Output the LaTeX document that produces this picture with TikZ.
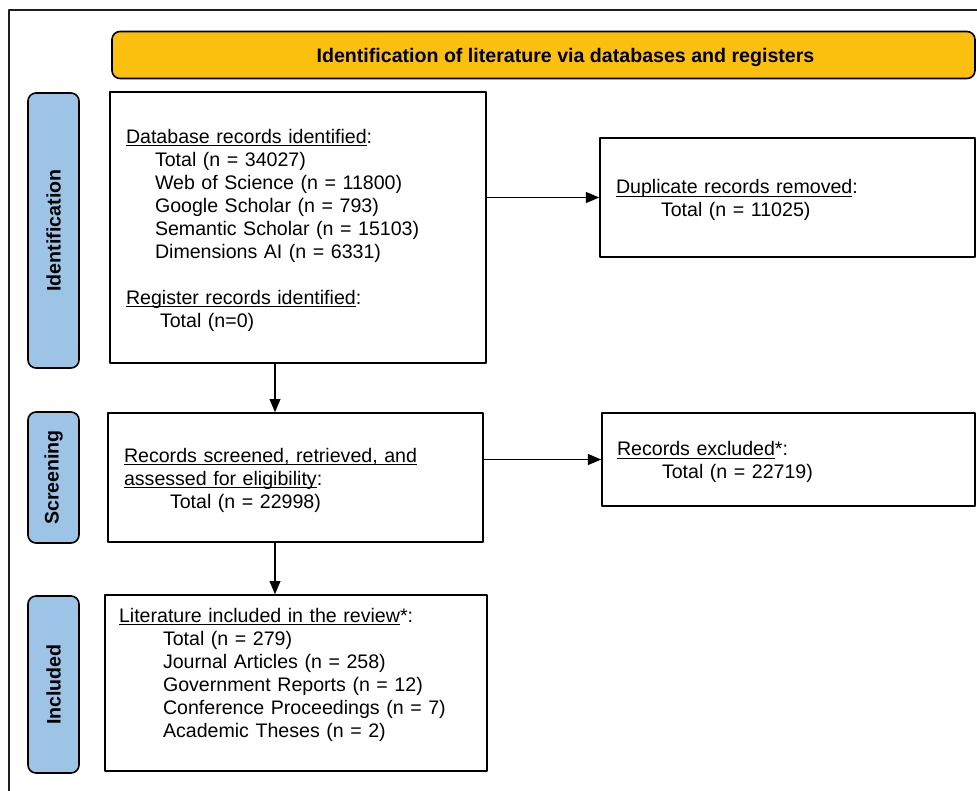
\documentclass[tikz,border=0pt]{standalone}
\usepackage{fontspec}
\setmainfont{Liberation Sans}
\usetikzlibrary{arrows}

\definecolor{stageblue}{RGB}{157,195,230}
\definecolor{headyellow}{RGB}{251,192,14}
\definecolor{framegray}{RGB}{30,30,30}
\newcommand{\subind}[1]{\hspace*{#1}}
\newcommand{\uln}[1]{\leavevmode\setbox0\hbox{#1}\rlap{\rule[-2.2pt]{\wd0}{0.8pt}}\box0}

\begin{document}
\begin{tikzpicture}[line cap=round,line join=round,>=triangle 45,x=0.75pt,y=-0.75pt,
		every node/.style={font=\fontsize{14.7}{17.25}\selectfont},
		recbox/.style={draw,line width=1.2pt,align=left,inner xsep=12pt,inner ysep=0pt,
			execute at begin node=\rule{0pt}{15pt}},
		stage/.style={draw,line width=1.2pt,fill=stageblue,rounded corners=6pt,rotate=90,
			minimum height=38.25pt,inner sep=0pt,font=\fontsize{14.7}{17.25}\selectfont\bfseries},
		headbox/.style={draw,line width=1.2pt,fill=headyellow,rounded corners=6pt,text depth=0pt,
			minimum width=647.25pt,minimum height=35.25pt,inner sep=0pt,font=\fontsize{14.7}{17.25}\selectfont\bfseries}]
		\useasboundingbox (0,0) rectangle (977,790);
		\clip (0,0) rectangle (977,790);
		\fill[white] (0,0) rectangle (977,790);
		\draw[framegray,line width=1.5pt] (9,10) rectangle (1000,820);

		% header and stages
		\node[headbox] (head) at (543.5,55) {\hspace*{33pt}Identification of literature via databases and registers};
		\node[stage,minimum width=206.25pt] (ident) at (53.5,230.5) {Identification};
		\node[stage,minimum width=98.25pt] (screen) at (53.5,477.5) {Screening};
		\node[stage,minimum width=132.75pt] (incl) at (53.5,684.5) {Included};

		% record boxes
		\node[recbox,text width=258pt,minimum height=203.25pt] (found) at (298,227.5) {%
			\uln{Database records identified}:\\
			\subind{21.75pt}Total (n = 34027)\\
			\subind{21.75pt}Web of Science (n = 11800)\\
			\subind{21.75pt}Google Scholar (n = 793)\\
			\subind{21.75pt}Semantic Scholar (n = 15103)\\
			\subind{21.75pt}Dimensions AI (n = 6331)\\[17.25pt]
			\uln{Register records identified}:\\
			\subind{25.5pt}Total (n=0)};
		\node[recbox,text width=257.25pt,minimum height=89.25pt] (dupl) at (787.5,197.5) {%
			\uln{Duplicate records removed}:\\
			\subind{33.75pt}Total (n = 11025)};
		\node[recbox,text width=257.25pt,minimum height=96.75pt] (screened) at (295.5,477.5) {%
			\uln{Records screened, retrieved, and}\\
			\uln{assessed for eligibility}:\\
			\subind{34.5pt}Total (n = 22998)};
		\node[recbox,inner xsep=11.25pt,text width=257.25pt,minimum height=69.75pt] (excl) at (788.5,459.5) {%
			\uln{Records excluded}*:\\
			\subind{33.75pt}Total (n = 22719)};
		\node[recbox,inner xsep=10.5pt,text width=265.5pt,minimum height=132pt] (review) at (296,683) {%
			\uln{Literature included in the review}*:\\
			\subind{33pt}Total (n = 279)\\
			\subind{33pt}Journal Articles (n = 258)\\
			\subind{33pt}Government Reports (n = 12)\\
			\subind{33pt}Conference Proceedings (n = 7)\\
			\subind{33pt}Academic Theses (n = 2)\\
			\rule[-3pt]{0pt}{0pt}};

		% arrows
		\coordinate (spine) at (275,0);
		\draw[->,line width=1.3pt] (found.south -| spine) -- (screened.north -| spine);
		\draw[->,line width=1.3pt] (screened.south -| spine) -- (review.north -| spine);
		\draw[->,line width=1.3pt] (found.east |- dupl.west) -- (dupl.west);
		\draw[->,line width=1.3pt] (screened.east |- excl.west) -- (excl.west);
	\end{tikzpicture}
\end{document}
